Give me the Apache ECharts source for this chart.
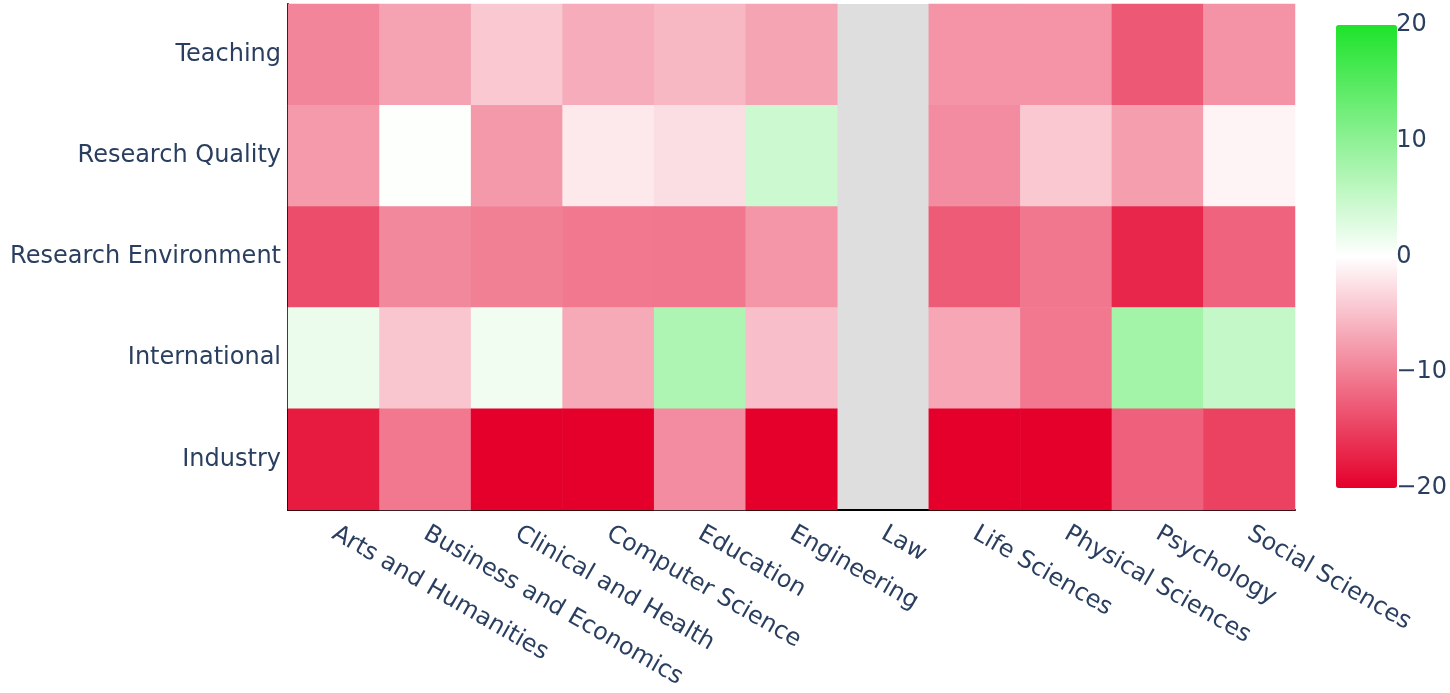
<!DOCTYPE html>
<html>
<head>
<meta charset="utf-8">
<script src="https://cdn.jsdelivr.net/npm/echarts@6/dist/echarts.min.js"></script>
<style>html,body{margin:0;padding:0;background:#fff}#c{width:1450px;height:693px}</style>
</head>
<body>
<div id="c"></div>
<script>
const subjects = ["Arts and Humanities","Business and Economics","Clinical and Health","Computer Science","Education","Engineering","Law","Life Sciences","Physical Sciences","Psychology","Social Sciences"];
const metrics = ["Teaching","Research Quality","Research Environment","International","Industry"];
const teaching = [-9.6,-7.3,-4.3,-6.5,-5.6,-7.1,null,-8.4,-8.4,-13.1,-8.5];
const researchQuality = [-7.9,0.3,-8.0,-1.8,-2.6,4.5,null,-9.0,-4.3,-7.6,-0.9];
const researchEnvironment = [-14.0,-9.3,-10.0,-10.6,-10.7,-8.2,null,-12.9,-10.7,-17.0,-12.2];
const international = [1.8,-4.5,1.2,-6.7,7.2,-5.1,null,-7.0,-10.6,8.2,5.2];
const industry = [-18.0,-10.6,-21.0,-20.5,-9.0,-20.0,null,-20.5,-20.5,-12.5,-14.8];
const colorTicks = [-20,-10,0,10,20];

const rows = [teaching, researchQuality, researchEnvironment, international, industry];
const data = [];
rows.forEach((r, yi) => r.forEach((v, xi) => { if (v !== null) data.push([xi, yi, v]); }));

const font = '"DejaVu Sans", Verdana, sans-serif';
const txt = '#2a3f5f';
const chart = echarts.init(document.getElementById('c'));
chart.setOption({
  animation: false,
  textStyle: {fontFamily: font},
  grid: [
    {left: 288, top: 4, width: 1007, height: 506, show: true, backgroundColor: '#dedede', borderWidth: 0},
    {left: 1336, top: 25, width: 61, height: 463, show: false}
  ],
  xAxis: [
    {type: 'category', data: subjects, gridIndex: 0,
     axisLine: {show: true, lineStyle: {color: '#000', width: 2}},
     axisTick: {show: false}, splitLine: {show: false},
     axisLabel: {rotate: -30, color: txt, fontSize: 24, fontFamily: font, margin: 22, interval: 0}},
    {type: 'value', gridIndex: 1, show: false}
  ],
  yAxis: [
    {type: 'category', data: metrics, inverse: true, gridIndex: 0,
     axisLine: {show: true, lineStyle: {color: '#000', width: 2}},
     axisTick: {show: false}, splitLine: {show: false},
     axisLabel: {color: txt, fontSize: 24, fontFamily: font, margin: 7}},
    {type: 'value', gridIndex: 1, position: 'right', min: colorTicks[0], max: colorTicks[colorTicks.length-1], interval: 10,
     axisLine: {show: false}, axisTick: {show: false}, splitLine: {show: false},
     axisLabel: {color: txt, fontSize: 24, fontFamily: font, margin: 10,
       formatter: v => String(v).replace('-', '\u2212')}}
  ],
  visualMap: {
    type: 'continuous', min: -20, max: 20, calculable: false,
    left: 1336, top: 25, itemWidth: 61, itemHeight: 463, padding: 0,
    text: ['', ''], showLabel: false,
    inRange: {color: ['#e4002b', '#ffffff', '#1ee32b']},
    seriesIndex: 0
  },
  series: [{
    type: 'heatmap', xAxisIndex: 0, yAxisIndex: 0, data: data,
    itemStyle: {borderWidth: 0}, emphasis: {disabled: true}
  }]
});
</script>
</body>
</html>
